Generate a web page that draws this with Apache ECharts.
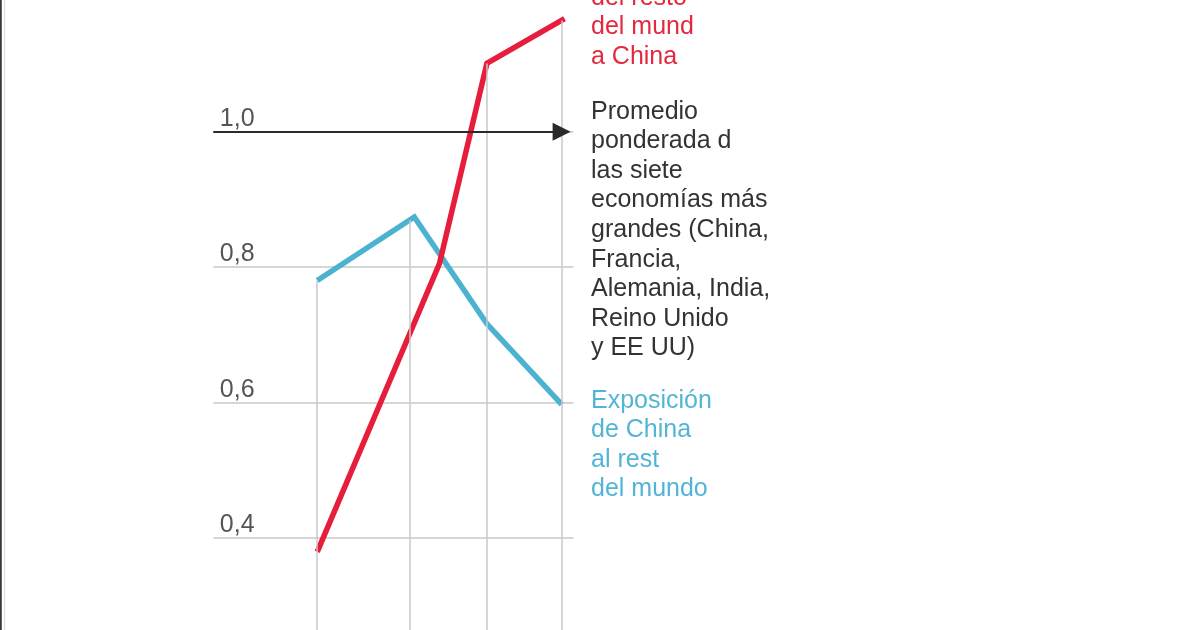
<!DOCTYPE html>
<html>
<head>
<meta charset="utf-8">
<script src="https://cdn.jsdelivr.net/npm/echarts@6/dist/echarts.min.js"></script>
<style>
html,body{margin:0;padding:0;background:#fff;}
#chart{width:1200px;height:630px;}
</style>
</head>
<body>
<div id="chart"></div>
<script>
// ---- data ----
const redYears   = [2000, 2008.5, 2011.8, 2017.2];
const redValues  = [0.379, 0.805, 1.101, 1.167];   // Exposición del resto del mundo a China
const blueYears  = [2000, 2006.75, 2011.8, 2017];
const blueValues = [0.780, 0.874, 0.716, 0.597];   // Exposición de China al resto del mundo
const dropYears  = [2000, 2006.4, 2011.8, 2017];   // vertical guide lines
const benchmarkValue = 1.0;                         // Promedio ponderado
const yMin = 0.2, yMax = 1.2, yStep = 0.2;
const xMin = 1992.77, xMax = 2017.81;

const redLabel   = ['del resto', 'del mund', 'a China'];
const blackLabel = ['Promedio', 'ponderada d', 'las siete', 'economías más', 'grandes (China,', 'Francia,', 'Alemania, India,', 'Reino Unido', 'y EE UU)'];
const blueLabel  = ['Exposición', 'de China', 'al rest', 'del mundo'];

function interp(xs, ys, x) {
  if (x <= xs[0]) return ys[0];
  for (let i = 1; i < xs.length; i++) {
    if (x <= xs[i]) {
      const t = (x - xs[i-1]) / (xs[i] - xs[i-1]);
      return ys[i-1] + t * (ys[i] - ys[i-1]);
    }
  }
  return ys[ys.length-1];
}

const zip = (xs, ys) => xs.map((x, i) => [x, ys[i]]);

const dropLines = dropYears.map(x => {
  const top = Math.max(interp(redYears, redValues, x), interp(blueYears, blueValues, x));
  return [{coord: [x, top]}, {coord: [x, yMin]}];
});

const FONT = 'Liberation Sans, Arial, sans-serif';
const chart = echarts.init(document.getElementById('chart'));
chart.setOption({
  animation: false,
  backgroundColor: '#fff',
  grid: {left: 213.3, top: -3.6, width: 360, height: 676.6, outerBoundsMode: 'none', containLabel: false},
  xAxis: {
    type: 'value', min: xMin, max: xMax,
    axisLine: {show: false}, axisTick: {show: false}, axisLabel: {show: false}, splitLine: {show: false}
  },
  yAxis: {
    type: 'value', min: yMin, max: yMax, interval: yStep,
    axisLine: {show: false}, axisTick: {show: false},
    splitLine: {show: true, lineStyle: {color: '#c8c8c8', width: 1.5}},
    axisLabel: {
      inside: true, margin: 6.5, verticalAlign: 'bottom', align: 'left',
      fontSize: 25, fontFamily: FONT, color: '#555',
      formatter: v => v.toFixed(1).replace('.', ',')
    }
  },
  series: [
    {
      type: 'line', data: [], z: 1, silent: true,
      markLine: {
        silent: true, symbol: 'none', animation: false,
        label: {show: false},
        lineStyle: {color: '#c8c8c8', width: 1.5, type: 'solid'},
        data: dropLines
      }
    },
    {
      type: 'line', data: [], z: 2, silent: true,
      markLine: {
        silent: true, symbol: ['none', 'triangle'], symbolSize: 18, animation: false,
        label: {show: false},
        lineStyle: {color: '#2a2a2a', width: 2, type: 'solid'},
        data: [[{coord: [xMin, benchmarkValue]}, {coord: [2017, benchmarkValue]}]]
      }
    },
    {
      name: 'China al resto del mundo', type: 'line', z: 3,
      data: zip(blueYears, blueValues),
      showSymbol: false, symbol: 'none',
      lineStyle: {color: '#4bb3d0', width: 5.5, join: 'miter'}
    },
    {
      name: 'Resto del mundo a China', type: 'line', z: 4,
      data: zip(redYears, redValues),
      showSymbol: false, symbol: 'none',
      lineStyle: {color: '#e61e3c', width: 5.5, join: 'miter'}
    }
  ],
  graphic: [
    {type: 'rect', shape: {x: 0, y: 0, width: 1.8, height: 630}, style: {fill: '#3a3a3a'}, silent: true},
    {type: 'rect', shape: {x: 4, y: 0, width: 1, height: 630}, style: {fill: '#dcdcdc'}, silent: true},
    {type: 'text', x: 591, y: -17, silent: true,
     style: {text: redLabel.join('\n'), font: '25px ' + FONT, fill: '#e4283f', lineHeight: 29.6, verticalAlign: 'top'}},
    {type: 'text', x: 591, y: 97, silent: true,
     style: {text: blackLabel.join('\n'), font: '25px ' + FONT, fill: '#333', lineHeight: 29.6, verticalAlign: 'top'}},
    {type: 'text', x: 591, y: 386, silent: true,
     style: {text: blueLabel.join('\n'), font: '25px ' + FONT, fill: '#52b5d5', lineHeight: 29.6, verticalAlign: 'top'}}
  ]
});
</script>
</body>
</html>
